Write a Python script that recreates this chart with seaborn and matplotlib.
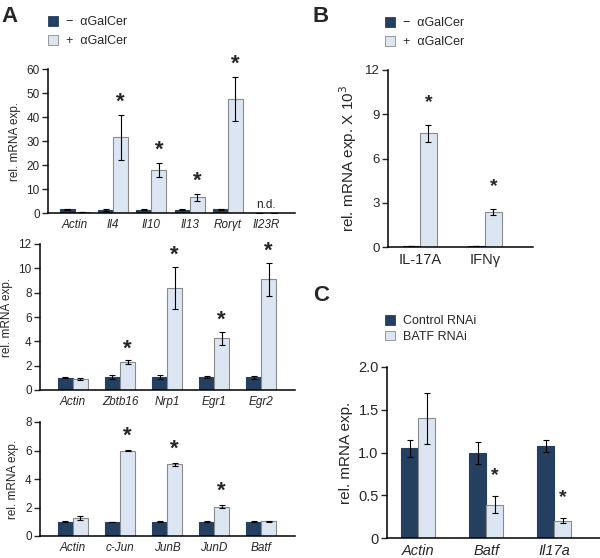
import pandas as pd
import matplotlib
matplotlib.use("Agg")
import matplotlib.pyplot as plt
from matplotlib.patches import Patch
import seaborn as sns

# panel A, top
genes_a1 = ["Actin", "Il4", "Il10", "Il13", "Rorγt", "Il23R"]
minus_a1 = [1.5, 1.3, 1.3, 1.3, 1.5, 0.0]
minus_a1_err = [0.3, 0.3, 0.2, 0.2, 0.2, 0.0]
plus_a1 = [0.4, 31.5, 18.0, 6.5, 47.5, 0.0]
plus_a1_err = [0.0, 9.3, 3.0, 1.4, 9.3, 0.0]
star_a1 = [False, True, True, True, True, False]

# panel A, middle
genes_a2 = ["Actin", "Zbtb16", "Nrp1", "Egr1", "Egr2"]
minus_a2 = [1.0, 1.05, 1.05, 1.05, 1.05]
minus_a2_err = [0.05, 0.15, 0.15, 0.1, 0.12]
plus_a2 = [0.9, 2.3, 8.4, 4.25, 9.1]
plus_a2_err = [0.1, 0.15, 1.75, 0.55, 1.35]
star_a2 = [False, True, True, True, True]

# panel A, bottom
genes_a3 = ["Actin", "c-Jun", "JunB", "JunD", "Batf"]
minus_a3 = [1.0, 0.98, 1.0, 1.0, 1.0]
minus_a3_err = [0.04, 0.03, 0.04, 0.04, 0.04]
plus_a3 = [1.25, 6.0, 5.03, 2.05, 1.02]
plus_a3_err = [0.12, 0.03, 0.1, 0.1, 0.06]
star_a3 = [False, True, True, True, False]

# panel B
genes_b = ["IL-17A", "IFNγ"]
minus_b = [0.05, 0.05]
minus_b_err = [0.0, 0.0]
plus_b = [7.7, 2.35]
plus_b_err = [0.55, 0.2]
star_b = [True, True]

# panel C
genes_c = ["Actin", "Batf", "Il17a"]
control_c = [1.05, 0.99, 1.08]
control_c_err = [0.1, 0.13, 0.07]
batf_c = [1.4, 0.39, 0.2]
batf_c_err = [0.3, 0.1, 0.03]
star_c = [False, True, True]

dark = "#243f60"
light = "#dce6f2"
edge_light = "#8a8a8a"

sns.set_style("white")
plt.rcParams["font.family"] = ["Liberation Sans", "DejaVu Sans"]


def make_df(genes, a, b, names):
    return pd.DataFrame({
        "gene": genes * 2,
        "value": a + b,
        "group": [names[0]] * len(genes) + [names[1]] * len(genes),
    })


def draw_panel(ax, genes, a, a_err, b, b_err, stars, names, width,
               xlim, ylim, yticks, yticklabels, ylabel, tick_fs, xlab_fs,
               ylab_fs, italic=True, star_fs=16, star_off=1):
    df = make_df(genes, a, b, names)
    sns.barplot(data=df, x="gene", y="value", hue="group",
                palette=[dark, light], errorbar=None, width=width,
                legend=False, ax=ax, saturation=1)
    for cont, ec in zip(ax.containers, [dark, edge_light]):
        for p in cont:
            p.set_edgecolor(ec)
            p.set_linewidth(0.8)
    for cont, vals, errs in zip(ax.containers, [a, b], [a_err, b_err]):
        xs = [p.get_x() + p.get_width() / 2 for p in cont]
        ax.errorbar(xs, vals, yerr=errs, fmt="none", ecolor="black",
                    elinewidth=0.8, capsize=2, capthick=0.8)
    for p, v, e, s in zip(ax.containers[1], b, b_err, stars):
        if s:
            ax.annotate("*", (p.get_x() + p.get_width() / 2, v + e),
                        xytext=(0, star_off), textcoords="offset points",
                        ha="center", va="bottom", fontsize=star_fs,
                        weight="bold")
    ax.set_xlim(*xlim)
    ax.set_ylim(*ylim)
    ax.set_yticks(yticks)
    ax.set_yticklabels(yticklabels, fontsize=tick_fs)
    ax.set_xticks(range(len(genes)))
    ax.set_xticklabels(genes, fontsize=xlab_fs,
                       style="italic" if italic else "normal")
    ax.set_xlabel("")
    ax.set_ylabel(ylabel, fontsize=ylab_fs)
    sns.despine(ax=ax)
    for sp in ["left", "bottom"]:
        ax.spines[sp].set_linewidth(1.1)
        ax.spines[sp].set_color("black")
    ax.tick_params(axis="y", direction="out", length=4, width=1, pad=2,
                   left=True)
    ax.tick_params(axis="x", length=0, pad=4)


fig = plt.figure(figsize=(6, 5.58), dpi=100)

galcer = ["−  αGalCer", "+  αGalCer"]

ax1 = fig.add_axes([48 / 600, 1 - 213 / 558, 247 / 600, 144 / 558])
draw_panel(ax1, genes_a1, minus_a1, minus_a1_err, plus_a1, plus_a1_err,
           star_a1, galcer, 0.78, (-0.7, 5.75), (0, 60),
           range(0, 61, 10), [str(t) for t in range(0, 61, 10)],
           "rel. mRNA exp.", 8.5, 8.5, 8.5, star_off=1.5)
ax1.text(5, 0.8, "n.d.", ha="center", va="bottom", fontsize=8.5)

ax2 = fig.add_axes([40 / 600, 1 - 390 / 558, 255 / 600, 146 / 558])
draw_panel(ax2, genes_a2, minus_a2, minus_a2_err, plus_a2, plus_a2_err,
           star_a2, galcer, 0.64, (-0.7, 4.72), (0, 12),
           range(0, 13, 2), [str(t) for t in range(0, 13, 2)],
           "rel. mRNA exp.", 8.5, 8.5, 8.5, star_off=0.5)

ax3 = fig.add_axes([40 / 600, 1 - 536 / 558, 255 / 600, 114 / 558])
draw_panel(ax3, genes_a3, minus_a3, minus_a3_err, plus_a3, plus_a3_err,
           star_a3, galcer, 0.64, (-0.7, 4.72), (0, 8),
           range(0, 9, 2), [str(t) for t in range(0, 9, 2)],
           "rel. mRNA exp.", 8.5, 8.5, 8.5, star_off=2.5)

ax4 = fig.add_axes([388 / 600, 1 - 247 / 558, 145 / 600, 177 / 558])
draw_panel(ax4, genes_b, minus_b, minus_b_err, plus_b, plus_b_err,
           star_b, galcer, 0.52, (-0.49, 1.74), (0, 12),
           range(0, 13, 3), [str(t) for t in range(0, 13, 3)],
           "rel. mRNA exp. X 10$^3$", 9.5, 10.5, 11, italic=False,
           star_fs=14, star_off=10.5)

ax5 = fig.add_axes([387 / 600, 1 - 538 / 558, 213 / 600, 171 / 558])
draw_panel(ax5, genes_c, control_c, control_c_err, batf_c, batf_c_err,
           star_c, ["Control RNAi", "BATF RNAi"], 0.5, (-0.46, 2.67), (0, 2),
           [0, 0.5, 1.0, 1.5, 2.0], ["0", "0.5", "1.0", "1.5", "2.0"],
           "rel. mRNA exp.", 10.5, 10.5, 11, star_fs=14, star_off=9)


def add_legend(labels, x, y, spacing):
    handles = [Patch(facecolor=dark, edgecolor=dark, linewidth=0.6),
               Patch(facecolor=light, edgecolor=edge_light, linewidth=0.6)]
    fig.legend(handles, labels, loc="upper left", bbox_to_anchor=(x, y),
               frameon=False, fontsize=9, handlelength=0.8, handleheight=0.8,
               handletextpad=0.6, labelspacing=spacing, borderpad=0,
               borderaxespad=0)


add_legend(galcer, 48 / 600, 1 - 16 / 558, 0.55)
add_legend(galcer, 385 / 600, 1 - 17 / 558, 0.55)
add_legend(["Control RNAi", "BATF RNAi"], 385 / 600, 1 - 315 / 558, 0.3)

fig.text(1 / 600, 1 - 6 / 558, "A", fontsize=16, weight="bold", va="top")
fig.text(312 / 600, 1 - 6 / 558, "B", fontsize=16, weight="bold", va="top")
fig.text(313 / 600, 1 - 285 / 558, "C", fontsize=16, weight="bold", va="top")

fig.savefig("out.png", dpi=100)
